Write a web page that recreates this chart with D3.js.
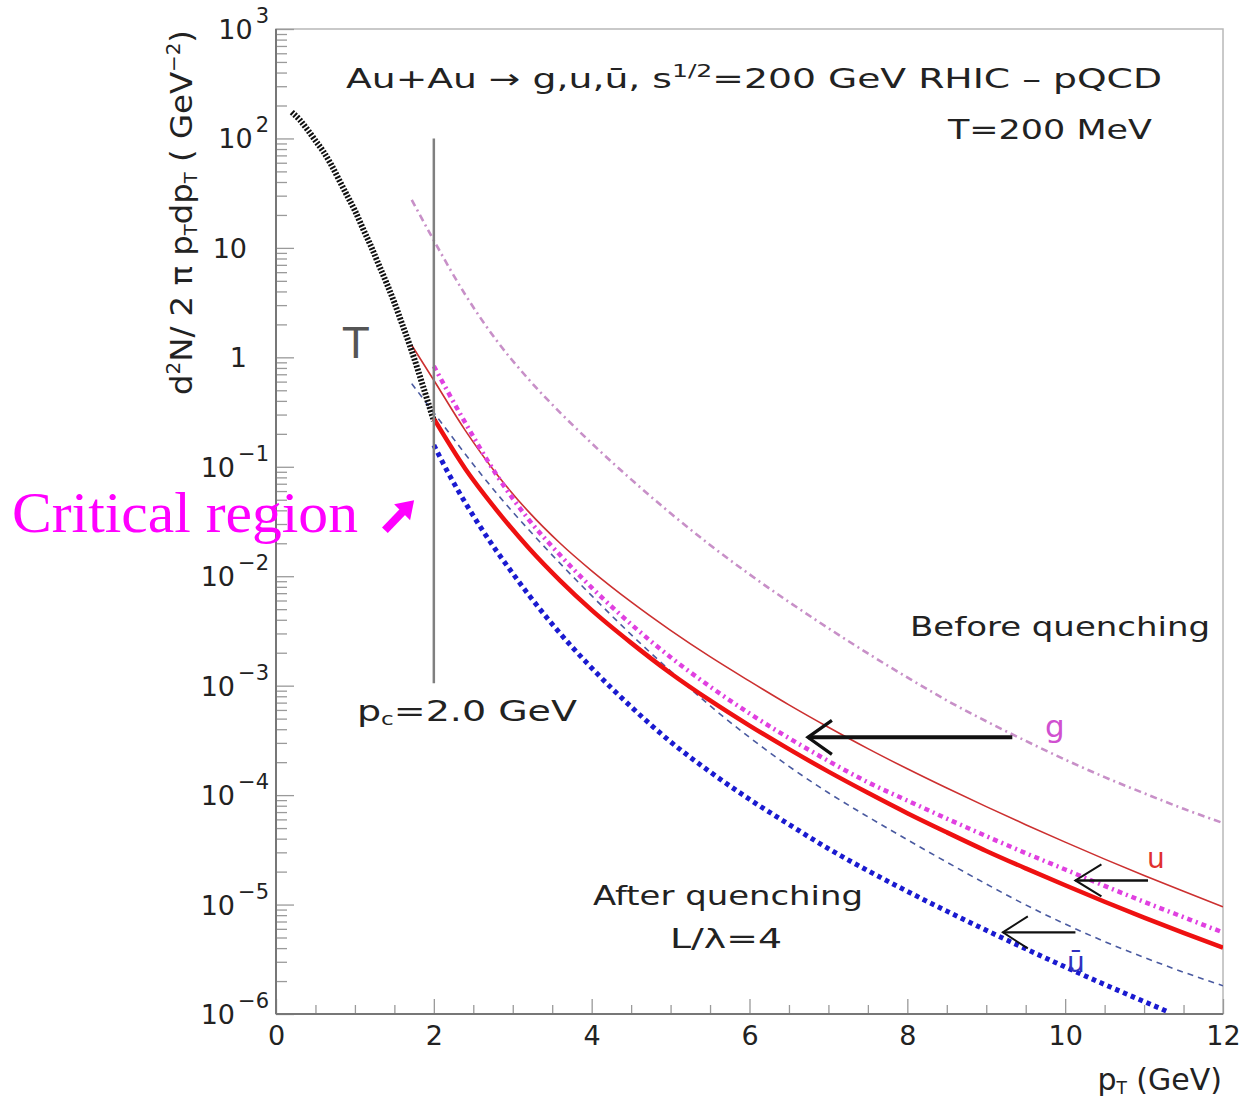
<html>
<head>
<meta charset="utf-8">
<script src="https://d3js.org/d3.v7.min.js"></script>
<style>
body { margin: 0; background: #fff; }
text { font-family: "DejaVu Sans", sans-serif; }
</style>
</head>
<body>
<div id="chart"></div>
<script>
// thermal spectrum (T)
const ptThermal = [0.2,0.3,0.4,0.5,0.6,0.7,0.8,0.9,1.0,1.1,1.2,1.3,1.4,1.5,1.6,1.7,1.8,1.9,2.0];
const thermal = [174,148,120,95.5,75.9,57.5,41.7,30.2,21.9,15.1,10.5,7.08,4.79,3.16,2.00,1.26,0.759,0.447,0.263];

// pQCD before quenching
const ptBefore = [1.72,2.0,2.4,2.8,3.2,3.6,4.0,4.5,5.0,5.5,6.0,6.5,7.0,7.5,8.0,8.5,9.0,9.5,10.0,10.5,11.0,11.5,12.0];
const gBefore = [27.5,11.7,3.72,1.41,0.631,0.313,0.164,7.67e-2,3.76e-2,1.93e-2,1.04e-2,5.82e-3,3.35e-3,1.97e-3,1.19e-3,7.33e-4,4.73e-4,3.13e-4,2.11e-4,1.46e-4,1.04e-4,7.50e-5,5.56e-5];
const uBefore = [1.29,0.617,0.214,8.51e-2,3.89e-2,2.00e-2,1.12e-2,5.82e-3,3.20e-3,1.84e-3,1.10e-3,6.68e-4,4.17e-4,2.66e-4,1.74e-4,1.16e-4,7.85e-5,5.37e-5,3.72e-5,2.60e-5,1.84e-5,1.32e-5,9.55e-6];
const ubarBefore = [0.575,0.312,0.130,5.68e-2,2.67e-2,1.31e-2,6.64e-3,2.93e-3,1.36e-3,6.56e-4,3.37e-4,1.83e-4,1.05e-4,6.34e-5,3.91e-5,2.44e-5,1.54e-5,9.93e-6,6.64e-6,4.59e-6,3.29e-6,2.41e-6,1.81e-6];

// after quenching, L/lambda = 4
const ptAfter = [2.0,2.4,2.8,3.2,3.6,4.0,4.5,5.0,5.5,6.0,6.5,7.0,7.5,8.0,8.5,9.0,9.5,10.0,10.5,11.0,11.5,12.0];
const gAfter = [0.832,0.251,8.32e-2,3.31e-2,1.56e-2,7.87e-3,3.64e-3,1.82e-3,9.80e-4,5.57e-4,3.32e-4,2.05e-4,1.31e-4,8.91e-5,6.10e-5,4.22e-5,2.95e-5,2.09e-5,1.48e-5,1.06e-5,7.67e-6,5.56e-6];
const uAfter = [0.275,9.55e-2,3.98e-2,1.82e-2,9.12e-3,4.90e-3,2.46e-3,1.30e-3,7.33e-4,4.32e-4,2.63e-4,1.64e-4,1.05e-4,6.84e-5,4.57e-5,3.09e-5,2.14e-5,1.50e-5,1.06e-5,7.59e-6,5.50e-6,4.03e-6];
const ptUbarAfter = [2.0,2.2,2.4,2.6,2.8,3.0,3.2,3.5,4.0,4.5,5.0,5.5,6.0,6.5,7.0,7.5,8.0,8.5,9.0,9.5,10.0,10.5,11.0,11.3];
const ubarAfter = [0.158,8.32e-2,4.68e-2,2.75e-2,1.68e-2,1.06e-2,6.79e-3,3.65e-3,1.45e-3,6.41e-4,3.07e-4,1.63e-4,9.16e-5,5.40e-5,3.24e-5,2.04e-5,1.32e-5,8.71e-6,5.82e-6,3.94e-6,2.69e-6,1.86e-6,1.30e-6,1.05e-6];

const xTicks = [0,2,4,6,8,10,12];
const yExps = [3,2,1,0,-1,-2,-3,-4,-5,-6];
const pc = 2.0;

const w = 1243, h = 1101;

const svg = d3.select("#chart").append("svg")
  .attr("width", w).attr("height", h);

const x = d3.scaleLinear().domain([0,12]).range([276,1223]);
const y = d3.scaleLog().domain([1e-6,1e3]).range([1014,29]);

svg.append("clipPath").attr("id","plot")
  .append("rect")
  .attr("x", x(0)).attr("y", y(1e3))
  .attr("width", x(12)-x(0)).attr("height", y(1e-6)-y(1e3));

// frame
svg.append("rect")
  .attr("x", x(0)).attr("y", y(1e3))
  .attr("width", x(12)-x(0)).attr("height", y(1e-6)-y(1e3))
  .attr("fill","none").attr("stroke","#b8b8b8").attr("stroke-width",1.5);

// x axis
const xMinor = d3.range(0,12.01,0.5).filter(v => v % 2 !== 0);
svg.append("g")
  .attr("transform", `translate(0,${y(1e-6)})`)
  .call(d3.axisBottom(x).tickValues(xMinor).tickSize(-9).tickFormat(""))
  .call(g => g.select(".domain").remove());
const gx = svg.append("g")
  .attr("transform", `translate(0,${y(1e-6)})`)
  .call(d3.axisBottom(x).tickValues(xTicks).tickSize(-15).tickPadding(12).tickFormat(d3.format("d")));
gx.select(".domain").remove();
gx.selectAll("text").attr("font-size",27).attr("font-family","DejaVu Sans").attr("fill","#222");

// y axis
const yMinor = [];
yExps.forEach(e => { if (e < 3) for (let m = 2; m < 10; m++) yMinor.push(m*Math.pow(10,e)); });
svg.append("g")
  .attr("transform", `translate(${x(0)},0)`)
  .call(d3.axisLeft(y).tickValues(yMinor).tickSize(-11).tickFormat(""))
  .call(g => g.select(".domain").remove());
svg.append("g")
  .attr("transform", `translate(${x(0)},0)`)
  .call(d3.axisLeft(y).tickValues(yExps.map(e => Math.pow(10,e))).tickSize(-18).tickFormat(""))
  .call(g => g.select(".domain").remove());
svg.selectAll(".tick line").attr("stroke","#9a9a9a").attr("stroke-width",1.3);

// axis lines
svg.append("line").attr("x1",x(0)).attr("x2",x(0)).attr("y1",y(1e3)).attr("y2",y(1e-6))
  .attr("stroke","#777").attr("stroke-width",2);
svg.append("line").attr("x1",x(0)).attr("x2",x(12)).attr("y1",y(1e-6)).attr("y2",y(1e-6))
  .attr("stroke","#777").attr("stroke-width",2);

// y tick labels
yExps.forEach(e => {
  const ty = y(Math.pow(10,e));
  if (e === 1 || e === 0) {
    svg.append("text").attr("x",247).attr("y",ty+10).attr("text-anchor","end")
      .attr("font-size",27).attr("fill","#222").text(e === 1 ? "10" : "1");
  } else {
    const t = svg.append("text").attr("x",269).attr("y",ty+10).attr("text-anchor","end")
      .attr("font-size",27).attr("fill","#222");
    t.append("tspan").text("10");
    t.append("tspan").attr("dx",3).attr("dy",-16).attr("font-size",21)
      .text(e < 0 ? "\u2212" + (-e) : String(e));
  }
});

// curves
const line = d3.line().x(d => x(d[0])).y(d => y(d[1])).curve(d3.curveMonotoneX);
const zip = (a,b) => a.map((v,i) => [v,b[i]]);
const series = [
  {pts: zip(ptBefore,gBefore), stroke:"#c890c8", width:2.6, dash:"7,4,2,4"},
  {pts: zip(ptBefore,uBefore), stroke:"#cc3030", width:1.6, dash:null},
  {pts: zip(ptBefore,ubarBefore), stroke:"#4a5aa0", width:1.6, dash:"6,5"},
  {pts: zip(ptAfter,gAfter), stroke:"#e040e0", width:4.5, dash:"5,4,2,4"},
  {pts: zip(ptAfter,uAfter), stroke:"#ee1111", width:4.5, dash:null},
  {pts: zip(ptUbarAfter,ubarAfter), stroke:"#1a1ad0", width:5, dash:"4.5,4"},
  {pts: zip(ptThermal,thermal), stroke:"#111", width:6, dash:"2,1.6"}
];
const curves = svg.append("g").attr("clip-path","url(#plot)");
series.forEach(s => {
  curves.append("path").attr("d", line(s.pts))
    .attr("fill","none").attr("stroke",s.stroke).attr("stroke-width",s.width)
    .attr("stroke-dasharray",s.dash);
});

// critical p_T line
svg.append("line").attr("x1",x(pc)).attr("x2",x(pc)).attr("y1",y(100)).attr("y2",y(1.05e-3))
  .attr("stroke","#808080").attr("stroke-width",2.5);

// arrows from "before" to "after"
function arrow(x1, x2, yv, sw, head) {
  const px1 = x(x1), px2 = x(x2), py = y(yv);
  svg.append("line").attr("x1",px1).attr("x2",px2).attr("y1",py).attr("y2",py)
    .attr("stroke","#111").attr("stroke-width",sw);
  svg.append("path")
    .attr("d",`M${px2+head[0]},${py-head[1]} L${px2},${py} L${px2+head[0]},${py+head[1]}`)
    .attr("fill","none").attr("stroke","#111").attr("stroke-width",sw*0.8);
}
arrow(9.33, 6.74, 3.37e-4, 4, [24,17]);
arrow(11.05, 10.13, 1.66e-5, 2.6, [26,16]);
arrow(10.13, 9.21, 5.57e-6, 2.4, [25,16]);

// texts
const title = svg.append("text").attr("x",346).attr("y",88).attr("font-size",27).attr("fill","#222")
  .attr("textLength",816).attr("lengthAdjust","spacingAndGlyphs");
title.append("tspan").text("Au+Au  \u2192  g,u,\u016b, s");
title.append("tspan").attr("dy",-11).attr("font-size",18).text("1/2");
title.append("tspan").attr("dy",11).text("=200 GeV RHIC \u2013 pQCD");

svg.append("text").attr("x",1152).attr("y",139).attr("text-anchor","end")
  .attr("font-size",27).attr("fill","#222")
  .attr("textLength",204).attr("lengthAdjust","spacingAndGlyphs").text("T=200 MeV");

const yl = svg.append("text").attr("transform","translate(192,395) rotate(-90)")
  .attr("font-size",31).attr("fill","#222")
  .attr("textLength",365).attr("lengthAdjust","spacingAndGlyphs");
yl.append("tspan").text("d");
yl.append("tspan").attr("dy",-12).attr("font-size",19).text("2");
yl.append("tspan").attr("dy",12).text("N/ 2 \u03c0 p");
yl.append("tspan").attr("dy",5).attr("font-size",17).text("T");
yl.append("tspan").attr("dy",-5).text("dp");
yl.append("tspan").attr("dy",5).attr("font-size",17).text("T");
yl.append("tspan").attr("dy",-5).text(" ( GeV");
yl.append("tspan").attr("dy",-12).attr("font-size",19).text("\u22122");
yl.append("tspan").attr("dy",12).text(")");

const xl = svg.append("text").attr("x",1222).attr("y",1090).attr("text-anchor","end")
  .attr("font-size",30).attr("fill","#222");
xl.append("tspan").text("p");
xl.append("tspan").attr("dy",4).attr("font-size",17).text("T");
xl.append("tspan").attr("dy",-4).text(" (GeV)");

svg.append("text").attr("x",343).attr("y",358).attr("font-size",42).attr("fill","#555").text("T");

const pcl = svg.append("text").attr("x",357).attr("y",721).attr("font-size",28).attr("fill","#222")
  .attr("textLength",220).attr("lengthAdjust","spacingAndGlyphs");
pcl.append("tspan").text("p");
pcl.append("tspan").attr("dy",4).attr("font-size",17).text("c");
pcl.append("tspan").attr("dy",-4).text("=2.0 GeV");

svg.append("text").attr("x",910).attr("y",636).attr("font-size",27).attr("fill","#222")
  .attr("textLength",300).attr("lengthAdjust","spacingAndGlyphs").text("Before quenching");
svg.append("text").attr("x",593).attr("y",905).attr("font-size",27).attr("fill","#222")
  .attr("textLength",270).attr("lengthAdjust","spacingAndGlyphs").text("After quenching");
svg.append("text").attr("x",670).attr("y",948).attr("font-size",27).attr("fill","#222")
  .attr("textLength",112).attr("lengthAdjust","spacingAndGlyphs").text("L/\u03bb=4");

svg.append("text").attr("x",1045).attr("y",737).attr("font-size",31).attr("fill","#d050d0").text("g");
svg.append("text").attr("x",1147).attr("y",868).attr("font-size",28).attr("fill","#e03030").text("u");
svg.append("text").attr("x",1067).attr("y",972).attr("font-size",28).attr("fill","#3030c0").text("\u016b");

svg.append("text").attr("x",12).attr("y",532)
  .style("font-family","'Liberation Serif', 'Times New Roman', serif")
  .attr("font-size",58).attr("fill","#ff00ff")
  .attr("textLength",346).attr("lengthAdjust","spacingAndGlyphs").text("Critical region");

// magenta arrow pointing at the critical region
const a0 = [x(1.38), y(2.63e-2)], a1 = [x(1.75), y(4.95e-2)];
svg.append("line").attr("x1",a0[0]).attr("y1",a0[1]).attr("x2",a1[0]-9).attr("y2",a1[1]+9)
  .attr("stroke","#ff00ff").attr("stroke-width",8);
svg.append("path")
  .attr("d",`M${a1[0]},${a1[1]} L${a1[0]-20},${a1[1]+4} L${a1[0]-4},${a1[1]+20} Z`)
  .attr("fill","#ff00ff");
</script>
</body>
</html>
